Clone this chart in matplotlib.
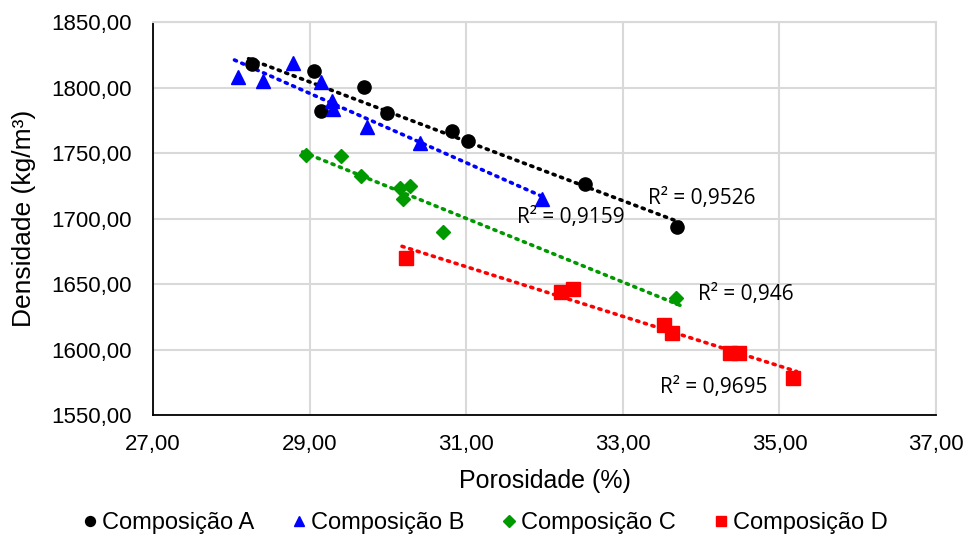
import matplotlib
import numpy as np

matplotlib.use("Agg")
import matplotlib.pyplot as plt  # noqa: E402
from matplotlib.ticker import FuncFormatter  # noqa: E402

# porosity (%) and density (kg/m3) per composition
por_a = [28.27, 29.06, 29.70, 29.14, 29.99, 30.82, 31.02, 32.52, 33.69]
den_a = [1817.7, 1812.7, 1800.3, 1782.3, 1780.6, 1767.0, 1759.0, 1726.0, 1693.5]
por_b = [28.09, 28.40, 28.79, 29.14, 29.28, 29.30, 29.73, 30.41, 31.97]
den_b = [1807.9, 1805.3, 1818.5, 1804.3, 1789.4, 1783.6, 1770.0, 1757.3, 1714.9]
por_c = [28.96, 29.40, 29.66, 30.16, 30.28, 30.19, 30.70, 33.68]
den_c = [1748.8, 1747.7, 1732.3, 1723.5, 1725.0, 1715.0, 1690.0, 1639.0]
por_d = [30.23, 32.21, 32.36, 33.52, 33.63, 34.37, 34.48, 35.17]
den_d = [1670.2, 1643.7, 1646.0, 1619.0, 1612.7, 1597.5, 1597.5, 1578.6]

labels = ["Composição A", "Composição B", "Composição C", "Composição D"]
r2_labels = ["R² = 0,9526", "R² = 0,9159", "R² = 0,946", "R² = 0,9695"]
r2_pos = [(34.01, 1715.5), (32.33, 1700.5), (34.57, 1642), (34.16, 1571)]

series = [(por_a, den_a), (por_b, den_b), (por_c, den_c), (por_d, den_d)]
markers = ["o", "^", "D", "s"]
sizes = [9.5, 10.5, 7.5, 10]
colors = ["#000000", "#0000FF", "#009900", "#FF0000"]

plt.rcParams["font.family"] = ["Liberation Sans", "DejaVu Sans"]

fig = plt.figure(figsize=(9.66, 5.34), dpi=100)
ax = fig.add_axes([0.1584, 0.2228, 0.8106, 0.736])

for (x, y), mk, ms, c, lab in zip(series, markers, sizes, colors, labels):
    x, y = np.asarray(x), np.asarray(y)
    ax.plot(x, y, mk, ms=ms, color=c, mec=c, label=lab, zorder=3)
    slope, icpt = np.polyfit(x, y, 1)
    xs = np.array([x.min() - 0.05, x.max() + 0.05])
    ax.plot(xs, slope * xs + icpt, color=c, lw=2.6, ls=(0, (0.6, 1.6)),
            dash_capstyle="round", zorder=2)

for (tx, ty), t in zip(r2_pos, r2_labels):
    ax.text(tx, ty, t, ha="center", va="center", fontsize=15,
            family=["Open Sans", "DejaVu Sans"])

ax.set_xlim(27, 37)
ax.set_ylim(1550, 1850)
ax.set_xticks(np.arange(27, 37.1, 2))
ax.set_yticks(np.arange(1550, 1850.1, 50))
fmt = FuncFormatter(lambda v, _: f"{v:.2f}".replace(".", ","))
ax.xaxis.set_major_formatter(fmt)
ax.yaxis.set_major_formatter(fmt)
ax.tick_params(length=0, labelsize=16)
ax.tick_params(axis="x", pad=14)
ax.tick_params(axis="y", pad=15)
ax.grid(True, color="#d9d9d9", lw=1.5, zorder=0)
ax.set_axisbelow(True)
for side in ("top", "right"):
    ax.spines[side].set_color("#d9d9d9")
    ax.spines[side].set_linewidth(1.5)
for side in ("left", "bottom"):
    ax.spines[side].set_color("black")
    ax.spines[side].set_linewidth(1.3)

ax.set_xlabel("Porosidade (%)", fontsize=18, labelpad=10)
ax.set_ylabel("Densidade (kg/m³)", fontsize=19, labelpad=11)

fig.legend(loc="lower center", ncol=4, frameon=False, fontsize=17,
           bbox_to_anchor=(0.5, -0.04), handletextpad=0.0, columnspacing=1.4,
           handlelength=1.0, markerscale=0.75)

fig.savefig("out.png", dpi=100)
plt.close(fig)
